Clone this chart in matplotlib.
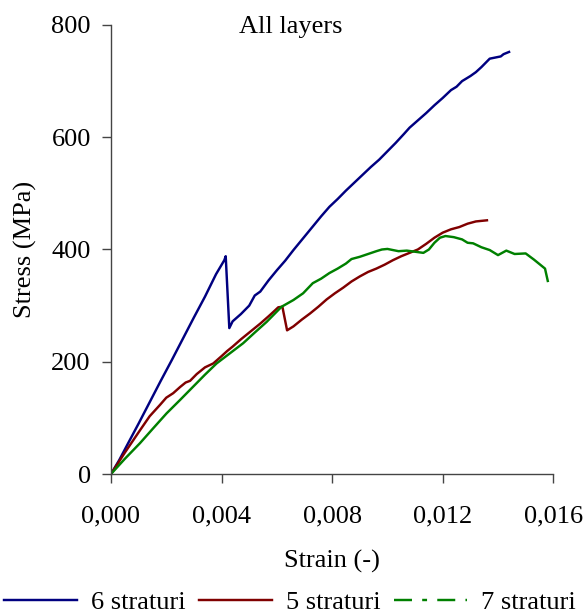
import matplotlib
matplotlib.use("Agg")
import matplotlib.pyplot as plt
from matplotlib.lines import Line2D

plt.rcParams['font.family'] = ['Liberation Serif', 'DejaVu Serif']
plt.rcParams['mathtext.fontset'] = 'stix'

# Stress-strain curves, strain (-) vs stress (MPa)
strain_6 = [0, 0.0003, 0.0006, 0.001, 0.0014, 0.0018, 0.0022, 0.0026, 0.003, 0.0034,
            0.0038, 0.0041, 0.00415, 0.00428, 0.0044, 0.0047, 0.0050, 0.0052, 0.0054,
            0.0057, 0.0060, 0.0063, 0.0066, 0.0070, 0.0073, 0.0076, 0.0079, 0.0082,
            0.0085, 0.0088, 0.0091, 0.0094, 0.0097, 0.0100, 0.0103, 0.0106, 0.0108,
            0.0111, 0.0114, 0.0117, 0.0120, 0.0123, 0.0125, 0.0127, 0.0130, 0.0132,
            0.0134, 0.0136, 0.0137, 0.0139, 0.0141, 0.0142, 0.0144]
stress_6 = [0, 25, 53, 90, 128, 166, 203, 241, 279, 316,
            356, 381, 388, 260, 272, 285, 300, 318, 325,
            345, 363, 380, 399, 423, 441, 459, 476, 490,
            505, 519, 533, 547, 560, 575, 590, 606, 617,
            630, 643, 657, 670, 684, 690, 700, 709, 716,
            725, 735, 740, 742, 744, 748, 752]

strain_5 = [0, 0.0005, 0.00105, 0.0014, 0.00177, 0.002, 0.00225, 0.0025, 0.0027, 0.00286,
            0.0031, 0.0034, 0.0037, 0.004, 0.0042, 0.0044, 0.0047, 0.0049, 0.0051,
            0.0054, 0.0057, 0.0059, 0.00605, 0.0062, 0.00637, 0.0066, 0.0069, 0.0072,
            0.0075, 0.0078, 0.0081, 0.0084, 0.0087, 0.0090, 0.0093, 0.0096, 0.0099,
            0.0102, 0.0105, 0.0108, 0.0111, 0.0114, 0.0117, 0.0120, 0.0123, 0.0126,
            0.0129, 0.0132, 0.0136]
stress_5 = [0, 38, 78, 103, 123, 136, 144, 155, 163, 166,
            178, 190, 197, 210, 219, 227, 240, 248, 256,
            268, 281, 290, 297, 298, 256, 263, 275, 286,
            298, 311, 322, 332, 343, 352, 360, 366, 373,
            381, 388, 394, 400, 410, 421, 430, 436, 440,
            446, 450, 452]

strain_7 = [0, 0.0005, 0.00105, 0.0015, 0.00201, 0.0025, 0.00298, 0.0034, 0.00382, 0.0043,
            0.00478, 0.0052, 0.00563, 0.00617, 0.0066, 0.00695, 0.0073, 0.0076, 0.0079,
            0.0082, 0.0085, 0.0087, 0.0090, 0.0093, 0.0096, 0.0098, 0.0100, 0.0102,
            0.0104, 0.0107, 0.0110, 0.0113, 0.0115, 0.0117, 0.0119, 0.0121, 0.0124,
            0.0127, 0.0129, 0.0131, 0.0134, 0.0137, 0.0140, 0.0143, 0.0146, 0.0150,
            0.0153, 0.0156, 0.0157, 0.0158]
stress_7 = [0, 27, 55, 80, 108, 132, 156, 177, 197, 215,
            233, 252, 271, 298, 310, 322, 340, 348, 358,
            366, 375, 383, 387, 392, 397, 400, 401, 399,
            397, 398, 396, 394, 400, 412, 421, 424, 422,
            418, 412, 411, 404, 399, 390, 398, 392, 393,
            382, 370, 366, 344]

labels = ['6 straturi', '5 straturi', '7 straturi']
colors = ['#000080', '#800000', '#008000']
x_ticks = [0.000, 0.004, 0.008, 0.012, 0.016]
x_ticklabels = ['0,000', '0,004', '0,008', '0,012', '0,016']
y_ticks = [0, 200, 400, 600, 800]

fs = 19

fig = plt.figure(figsize=(5.86, 6.14), dpi=100)
ax = fig.add_axes([0.1894, 0.228, 0.7548, 0.7313])

lw = 1.75
ax.plot(strain_6, stress_6, color=colors[0], lw=lw, solid_joinstyle='round')
ax.plot(strain_5, stress_5, color=colors[1], lw=lw, solid_joinstyle='round')
ax.plot(strain_7, stress_7, color=colors[2], lw=lw, solid_joinstyle='round')

ax.set_xlim(0, 0.016)
ax.set_ylim(0, 800)
ax.set_xticks(x_ticks)
ax.set_xticklabels(x_ticklabels)
ax.set_yticks(y_ticks)

for s in ['top', 'right']:
    ax.spines[s].set_visible(False)
for s in ['left', 'bottom']:
    ax.spines[s].set_color('#444444')
    ax.spines[s].set_linewidth(1.0)

ax.tick_params(axis='both', direction='out', length=6.5, width=1.0,
               color='#444444', labelsize=fs)
ax.tick_params(axis='x', pad=16)
ax.tick_params(axis='y', pad=8)

ax.set_xlabel('Strain (-)', fontsize=fs, labelpad=16)
ax.set_ylabel('Stress (MPa)', fontsize=fs, labelpad=10)

ax.text(0.407, 0.995, 'All layers', transform=ax.transAxes, ha='center', va='center',
        fontsize=fs)

handles = [
    Line2D([], [], color=colors[0], lw=lw),
    Line2D([], [], color=colors[1], lw=lw),
    Line2D([], [], color=colors[2], lw=lw, dashes=(7.4, 4.2, 2.0, 4.2)),
]
fig.legend(handles, labels, loc='center', bbox_to_anchor=(0.495, 0.0195), ncol=3,
           frameon=False, fontsize=fs, handlelength=2.75, handletextpad=0.55,
           columnspacing=0.5, borderaxespad=0)

fig.savefig('out.png', dpi=100)
